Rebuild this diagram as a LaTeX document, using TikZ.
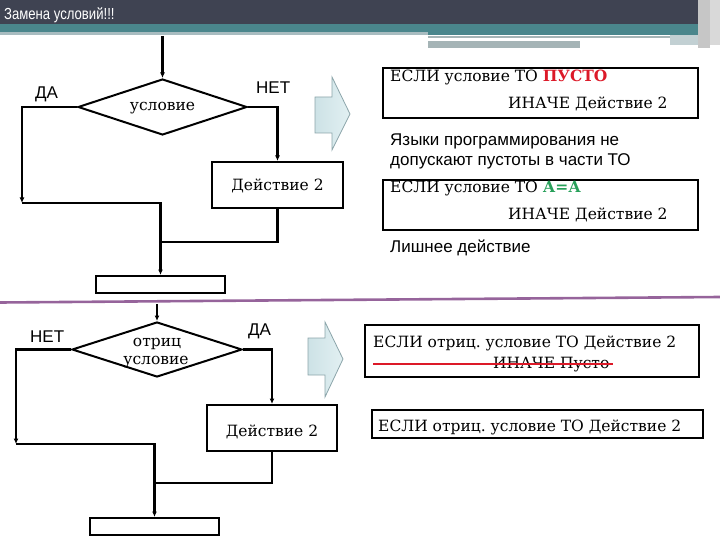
\documentclass[tikz,border=0pt]{standalone}
\usepackage{fontspec}
\setmainfont{DejaVu Serif}
\newfontfamily\sansf{Liberation Sans}
\usetikzlibrary{shapes.geometric,arrows.meta}
\definecolor{hdr}{RGB}{63,67,82}
\definecolor{teal}{RGB}{74,134,140}
\definecolor{lstrip}{RGB}{168,188,192}
\definecolor{gstrip}{RGB}{165,180,182}
\definecolor{sepc}{RGB}{150,100,155}
\definecolor{redt}{RGB}{220,25,40}
\definecolor{greent}{RGB}{40,160,90}
\definecolor{barrowfill}{RGB}{226,240,242}
\definecolor{barrowfill2}{RGB}{205,226,230}
\definecolor{barrowline}{RGB}{140,165,170}
\frenchspacing
\tikzset{
  flow/.style={line width=2.2pt},
  arr/.style={flow,-{Latex[length=5.5pt,width=5pt]}},
  boxn/.style={draw,line width=2pt,rectangle,inner sep=0pt},
  dia/.style={draw,line width=2pt,diamond,inner sep=0pt,minimum width=169pt,minimum height=56pt},
  sertxt/.style={inner sep=0pt,anchor=base west,font=\fontsize{15.5}{17}\selectfont},
  santxt/.style={inner sep=0pt,anchor=base west,font=\sansf\fontsize{17}{19}\selectfont},
  blockarr/.style={draw=barrowline,line width=0.8pt,left color=barrowfill2,right color=barrowfill},
}
\begin{document}
\begin{tikzpicture}[x=1pt,y=-1pt]
\useasboundingbox (0,0) rectangle (720,540);
% header
\fill[hdr] (0,0) rectangle (703,24);
\fill[teal] (0,24) rectangle (703,33);
\fill[lstrip] (0,32) rectangle (428,35);
\fill[teal] (428,32) rectangle (703,35);
\fill[gstrip] (428,36) rectangle (670,38);
\fill[gstrip] (428,41) rectangle (580,48);
\fill[lstrip!70] (670,35) rectangle (703,45);
\fill[gray!45] (698,0) rectangle (710,48);
\fill[gray!30] (710,0) rectangle (720,45);
\node[inner sep=0pt,anchor=base west,text=white,font=\sansf\fontsize{16}{18}\selectfont] (title) at (4,20) {\scalebox{0.82}[1]{Замена условий!!!}};

% separator
\draw[sepc,line width=2.6pt] (0,302.5) -- (720,297);

% ===== top flowchart =====
\coordinate (s1) at (162.5,36);
\node[dia] (d1) at (162.5,107) {};
\node[sertxt,anchor=base] (d1t) at (162.5,111) {условие};
\node[boxn,minimum width=131pt,minimum height=46pt] (b1) at (277.5,185) {};
\node[sertxt,anchor=base] (b1t) at (277.5,191) {Действие 2};
\node[boxn,minimum width=129pt,minimum height=17pt] (e1) at (160.5,284.5) {};
\coordinate (c1) at (22,203);
\coordinate (m1) at (160.5,242);
\node[santxt] (da1) at (35,99) {ДА};
\node[santxt] (net1) at (256,94) {НЕТ};
\draw[arr] (s1) -- (d1.north);
\draw[arr] (d1.west) -| (c1);
\draw[arr] (c1) -| (e1.north);
\draw[arr] (d1.east) -| (b1.north);
\draw[flow] (b1.south) |- (m1);

% ===== bottom flowchart =====
\coordinate (s2) at (157,304);
\node[dia,minimum width=170pt,minimum height=55pt] (d2) at (157,349.5) {};
\node[sertxt,anchor=base] (d2t1) at (157,346) {отриц};
\node[sertxt,anchor=base] (d2t2) at (156,364) {условие};
\node[boxn,minimum width=130pt,minimum height=46pt] (b2) at (272,428) {};
\node[sertxt,anchor=base] (b2t) at (272,436) {Действие 2};
\node[boxn,minimum width=129pt,minimum height=17pt] (e2) at (154.5,526.5) {};
\coordinate (c2) at (16,444);
\coordinate (m2) at (154.5,483);
\node[santxt] (net2) at (30,342) {НЕТ};
\node[santxt] (da2) at (248,335) {ДА};
\draw[arr] (s2) -- (d2.north);
\draw[arr] (d2.west) -| (c2);
\draw[arr] (c2) -| (e2.north);
\draw[arr] (d2.east) -| (b2.north);
\draw[flow] (b2.south) |- (m2);

% ===== block arrows =====
\path[blockarr] (315,97) -- (332,97) -- (332,77) -- (350,114) -- (332,150) -- (332,133) -- (315,133) -- cycle;
\path[blockarr] (308,338) -- (325,338) -- (325,322) -- (343,359) -- (325,397) -- (325,375) -- (308,375) -- cycle;

% ===== right texts =====
\node[boxn,minimum width=315pt,minimum height=50pt] (tb1) at (540.5,93) {};
\node[sertxt] (tb1a) at (390,82) {ЕСЛИ условие ТО \textcolor{redt}{\textbf{ПУСТО}}};
\node[sertxt] (tb1b) at (508,109) {ИНАЧЕ Действие 2};
\node[santxt] (n1) at (390,146) {Языки программирования не};
\node[santxt] (n2) at (390,166) {допускают пустоты в части ТО};
\node[boxn,minimum width=315pt,minimum height=50pt] (tb2) at (540.5,205) {};
\node[sertxt] (tb2a) at (390,193) {ЕСЛИ условие ТО \textcolor{greent}{\textbf{А=А}}};
\node[sertxt] (tb2b) at (508,220) {ИНАЧЕ Действие 2};
\node[santxt] (n3) at (390,252) {Лишнее действие};

\node[boxn,minimum width=334pt,minimum height=52pt] (tb3) at (532,351) {};
\node[sertxt] (tb3a) at (373,347) {ЕСЛИ отриц. условие ТО Действие 2};
\node[sertxt] (tb3b) at (493,368) {ИНАЧЕ Пусто};
\coordinate (st1) at (373,364);
\coordinate (st2) at (613,364);
\draw[redt,line width=1.6pt] (st1) -- (st2);
\node[boxn,minimum width=331pt,minimum height=28pt] (tb4) at (537.5,424) {};
\node[sertxt] (tb4a) at (378,431) {ЕСЛИ отриц. условие ТО Действие 2};
\end{tikzpicture}
\end{document}
